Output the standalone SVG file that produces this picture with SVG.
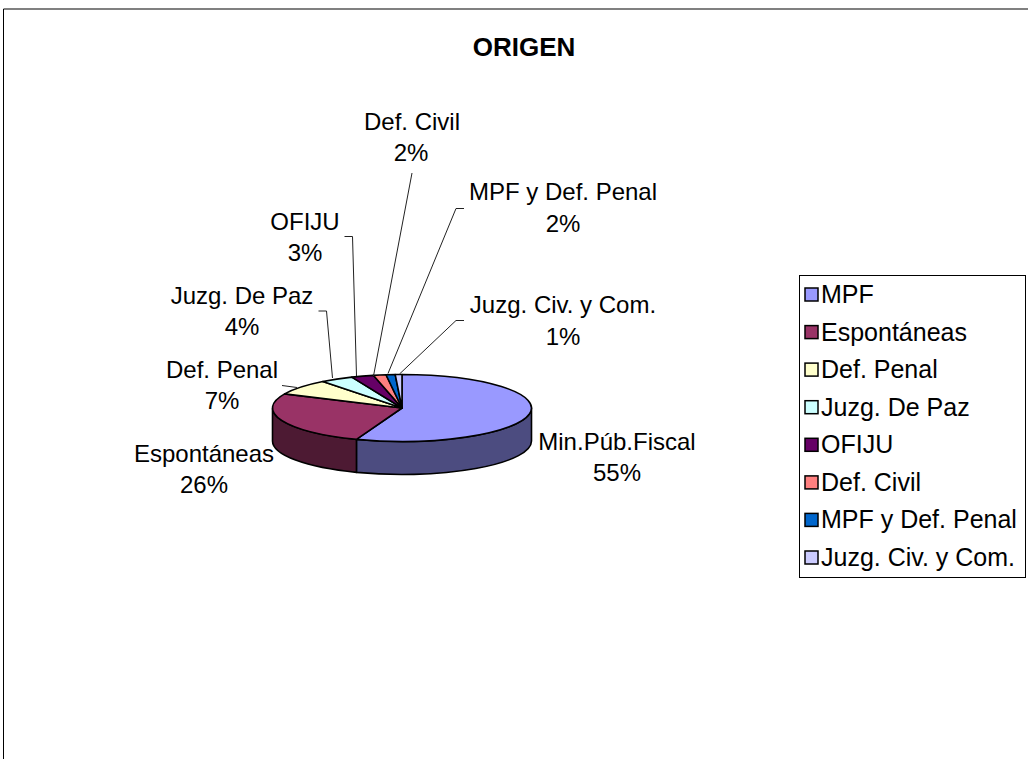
<svg xmlns="http://www.w3.org/2000/svg" width="1028" height="759" viewBox="0 0 1028 759">
<style>
text{font-family:"Liberation Sans",Arial,sans-serif;fill:#000}
.lbl{font-size:24px;text-anchor:middle}
.leg{font-size:25px}
.ttl{font-size:26px;font-weight:bold;text-anchor:middle}
.sl{stroke:#000;stroke-width:1.6;stroke-linejoin:round}
.ld{fill:none;stroke:#222;stroke-width:1}
.sw{stroke:#000;stroke-width:1.5}
</style>
<rect x="0" y="0" width="1028" height="759" fill="#fff"/>
<g id="frame">
<line x1="3.5" y1="9" x2="1028" y2="9" stroke="#808080" stroke-width="2"/>
<line x1="3.5" y1="9" x2="3.5" y2="759" stroke="#000" stroke-width="1"/>
</g>
<g id="title"><text class="ttl" x="524" y="56">ORIGEN</text></g>
<g id="pie">
<path class="sl" fill="#4C4C80" d="M531.5,408 A129.5,33.5 0 0,1 356.44,439.36 L356.44,472.36 A129.5,33.5 0 0,0 531.5,441 Z"/>
<path class="sl" fill="#4D1A33" d="M356.44,439.36 A129.5,33.5 0 0,1 272.5,408 L272.5,441 A129.5,33.5 0 0,0 356.44,472.36 Z"/>
<path id="s-mpf" class="sl" fill="#9999FF" d="M402,408 L402,374.5 A129.5,33.5 0 1,1 356.44,439.36 Z"/>
<path id="s-esp" class="sl" fill="#993366" d="M402,408 L356.44,439.36 A129.5,33.5 0 0,1 284.63,393.84 Z"/>
<path id="s-dp" class="sl" fill="#FFFFCC" d="M402,408 L284.63,393.84 A129.5,33.5 0 0,1 322.81,381.49 Z"/>
<path id="s-jp" class="sl" fill="#CCFFFF" d="M402,408 L322.81,381.49 A129.5,33.5 0 0,1 351.82,377.12 Z"/>
<path id="s-of" class="sl" fill="#660066" d="M402,408 L351.82,377.12 A129.5,33.5 0 0,1 373.31,375.33 Z"/>
<path id="s-dc" class="sl" fill="#FF8080" d="M402,408 L373.31,375.33 A129.5,33.5 0 0,1 385.99,374.76 Z"/>
<path id="s-md" class="sl" fill="#0066CC" d="M402,408 L385.99,374.76 A129.5,33.5 0 0,1 395.22,374.55 Z"/>
<path id="s-jc" class="sl" fill="#CCCCFF" d="M402,408 L395.22,374.55 A129.5,33.5 0 0,1 402,374.5 Z"/>
</g>
<g id="connectors">
<path class="ld" d="M412,173 L373.5,376"/>
<path class="ld" d="M344.5,236.5 L352.5,236.5 L356.5,376"/>
<path class="ld" d="M318.5,311 L326.5,311 L332.5,378"/>
<path class="ld" d="M282,385.5 L297,387.5"/>
<path class="ld" d="M464,208.5 L456,208.5 L388,373.5"/>
<path class="ld" d="M464,320.5 L456,320.5 L399.5,374"/>
</g>
<g id="labels">
<g id="l-dc"><text class="lbl" x="412" y="130">Def. Civil</text><text class="lbl" x="411" y="161">2%</text></g>
<g id="l-md"><text class="lbl" x="563" y="200">MPF y Def. Penal</text><text class="lbl" x="563" y="232">2%</text></g>
<g id="l-of"><text class="lbl" x="305" y="230">OFIJU</text><text class="lbl" x="305" y="261">3%</text></g>
<g id="l-jc"><text class="lbl" x="563" y="313">Juzg. Civ. y Com.</text><text class="lbl" x="563" y="345">1%</text></g>
<g id="l-jp"><text class="lbl" x="242" y="304">Juzg. De Paz</text><text class="lbl" x="242" y="335">4%</text></g>
<g id="l-dp"><text class="lbl" x="222" y="378">Def. Penal</text><text class="lbl" x="222" y="409">7%</text></g>
<g id="l-esp"><text class="lbl" x="204" y="462">Espontáneas</text><text class="lbl" x="204" y="493">26%</text></g>
<g id="l-mpf"><text class="lbl" x="617" y="450">Min.Púb.Fiscal</text><text class="lbl" x="617" y="481">55%</text></g>
</g>
<g id="legend">
<rect x="799.5" y="275.5" width="226" height="302" fill="#fff" stroke="#000" stroke-width="1"/>
<rect class="sw" x="805" y="288" width="13" height="13" fill="#9999FF"/><text class="leg" x="821" y="303">MPF</text>
<rect class="sw" x="805" y="325.6" width="13" height="13" fill="#993366"/><text class="leg" x="821" y="340.6">Espontáneas</text>
<rect class="sw" x="805" y="363.1" width="13" height="13" fill="#FFFFCC"/><text class="leg" x="821" y="378.1">Def. Penal</text>
<rect class="sw" x="805" y="400.7" width="13" height="13" fill="#CCFFFF"/><text class="leg" x="821" y="415.7">Juzg. De Paz</text>
<rect class="sw" x="805" y="438.3" width="13" height="13" fill="#660066"/><text class="leg" x="821" y="453.3">OFIJU</text>
<rect class="sw" x="805" y="475.9" width="13" height="13" fill="#FF8080"/><text class="leg" x="821" y="490.9">Def. Civil</text>
<rect class="sw" x="805" y="513.4" width="13" height="13" fill="#0066CC"/><text class="leg" x="821" y="528.4">MPF y Def. Penal</text>
<rect class="sw" x="805" y="551" width="13" height="13" fill="#CCCCFF"/><text class="leg" x="821" y="566">Juzg. Civ. y Com.</text>
</g>
</svg>
